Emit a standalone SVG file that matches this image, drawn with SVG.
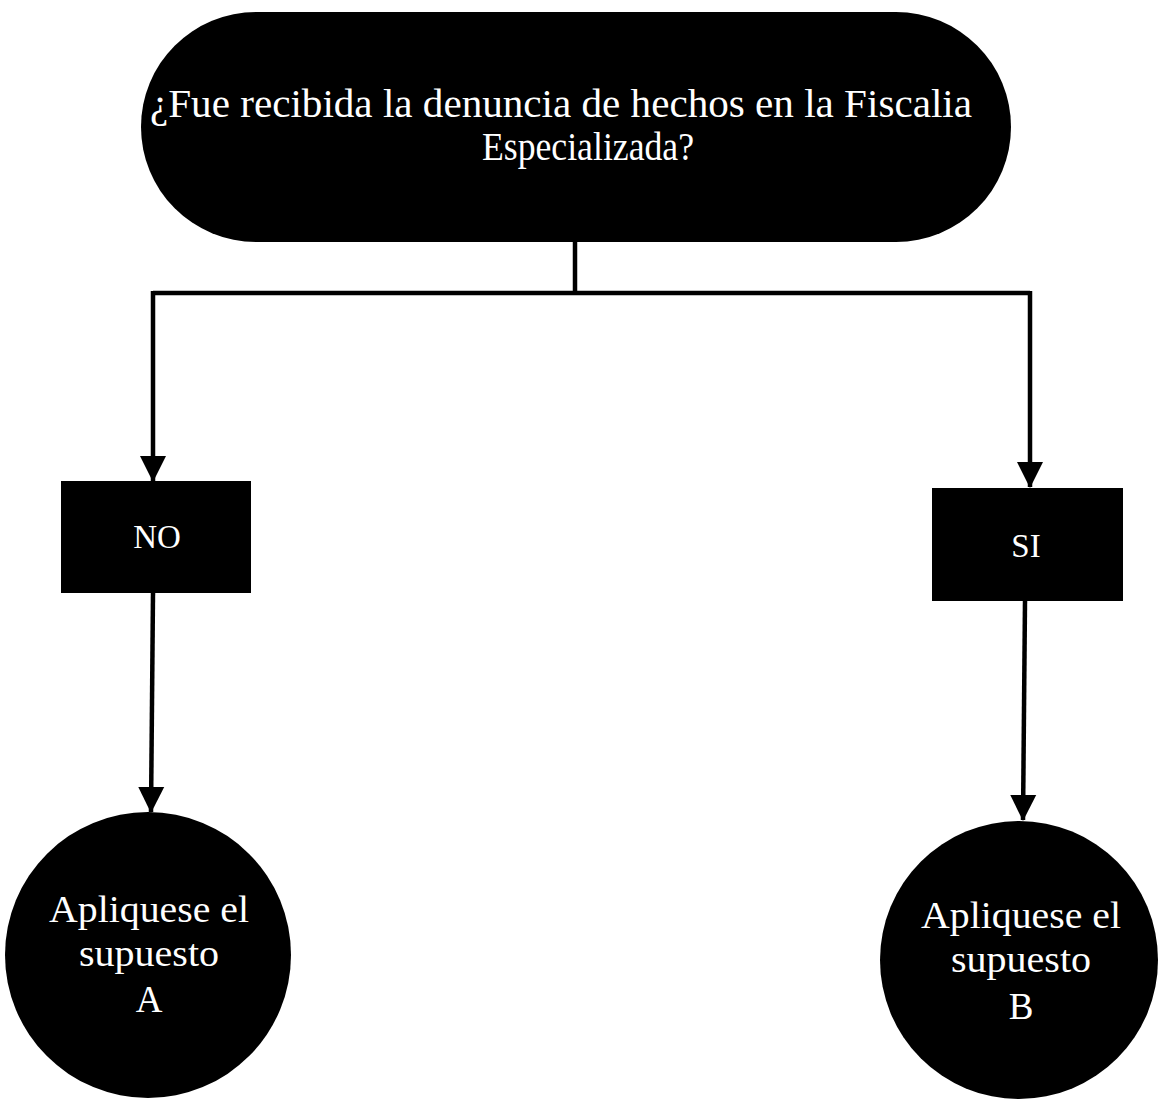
<svg xmlns="http://www.w3.org/2000/svg" width="1159" height="1099" viewBox="0 0 1159 1099">
<style>
.node{fill:#000}
.lbl{fill:#fff;font-family:"Liberation Serif","DejaVu Serif",serif;text-anchor:middle}
.conn{stroke:#000;fill:none;stroke-width:4.5}
</style>
<defs>
<marker id="ah" markerUnits="userSpaceOnUse" markerWidth="26" markerHeight="27" refX="25" refY="13" orient="auto" viewBox="0 0 26 26">
<path d="M0,0 L26,13 L0,26 Z" fill="#000"/>
</marker>
</defs>
<rect width="1159" height="1099" fill="#fff"/>
<g id="connectors">
<path class="conn" d="M575,242 V293"/>
<path class="conn" d="M153,293 H1030" stroke-width="4"/>
<path class="conn" d="M153,291 V481" marker-end="url(#ah)"/>
<path class="conn" d="M1030,291 V487" marker-end="url(#ah)"/>
<path class="conn" d="M153,593 L151,812" marker-end="url(#ah)"/>
<path class="conn" d="M1025,601 L1023,820" marker-end="url(#ah)"/>
</g>
<g id="question">
<rect class="node" x="141" y="12" width="870" height="230" rx="115" ry="115"/>
<text class="lbl" x="561" y="117" font-size="39" textLength="822" lengthAdjust="spacingAndGlyphs">¿Fue recibida la denuncia de hechos en la Fiscalia</text>
<text class="lbl" x="588" y="160" font-size="39" textLength="212" lengthAdjust="spacingAndGlyphs">Especializada?</text>
</g>
<g id="no">
<rect class="node" x="61" y="481" width="190" height="112"/>
<text class="lbl" x="157" y="548" font-size="33">NO</text>
</g>
<g id="si">
<rect class="node" x="932" y="488" width="191" height="113"/>
<text class="lbl" x="1026" y="557" font-size="33">SI</text>
</g>
<g id="supuestoA">
<circle class="node" cx="148" cy="955" r="143"/>
<text class="lbl" x="149" y="922" font-size="37" textLength="200" lengthAdjust="spacingAndGlyphs">Apliquese el</text>
<text class="lbl" x="149" y="966" font-size="37" textLength="140" lengthAdjust="spacingAndGlyphs">supuesto</text>
<text class="lbl" x="149" y="1012" font-size="37">A</text>
</g>
<g id="supuestoB">
<circle class="node" cx="1019" cy="960" r="139"/>
<text class="lbl" x="1021" y="928" font-size="37" textLength="200" lengthAdjust="spacingAndGlyphs">Apliquese el</text>
<text class="lbl" x="1021" y="972" font-size="37" textLength="140" lengthAdjust="spacingAndGlyphs">supuesto</text>
<text class="lbl" x="1021" y="1019" font-size="37">B</text>
</g>
</svg>
